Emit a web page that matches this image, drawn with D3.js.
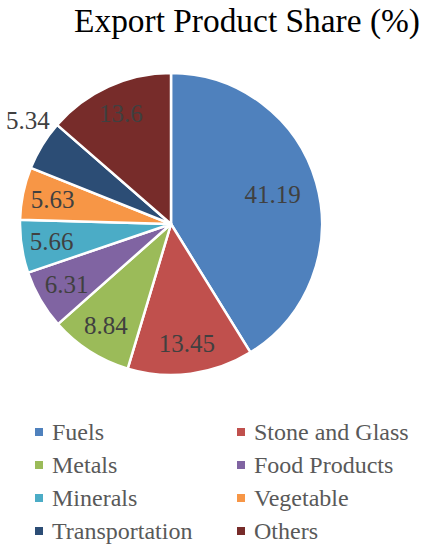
<!DOCTYPE html>
<html><head><meta charset="utf-8">
<script src="https://cdn.jsdelivr.net/npm/d3@7"></script>
<style>body{margin:0;background:#fff}svg{display:block}</style>
</head><body>
<svg id="c" width="425" height="550"></svg>
<script>
const categories = ["Fuels","Stone and Glass","Metals","Food Products","Minerals","Vegetable","Transportation","Others"];
const values = [41.19,13.45,8.84,6.31,5.66,5.63,5.34,13.6];
const colors = ["#4F81BD","#C0504D","#9BBB59","#8064A2","#4BACC6","#F79646","#2C4D75","#772C2A"];
const title = "Export Product Share (%)";

const svg = d3.select("#c");
const font = "'Liberation Serif', serif";
const cx = 171, cy = 224, R = 151;

svg.append("text").attr("x", 247).attr("y", 32).attr("text-anchor","middle")
  .attr("font-family", font).attr("font-size", 33.4).attr("fill","#000").text(title);

const pie = d3.pie().sort(null).value(d => d)(values);
const arc = d3.arc().innerRadius(0).outerRadius(R);
const g = svg.append("g").attr("transform", `translate(${cx},${cy})`);
g.selectAll("path").data(pie).join("path")
  .attr("d", arc).attr("fill", (d,i) => colors[i])
  .attr("stroke", "#fff").attr("stroke-width", 2.5).attr("stroke-linejoin","round");

function labelPos(d, i) {
  let a = (d.startAngle + d.endAngle) / 2;
  let r = 0.8 * R;
  if (i === 0) r = 0.7 * R;
  if (i === 6) { r = 1.17 * R; a += 4.5 * Math.PI / 180; }
  return [Math.sin(a) * r, -Math.cos(a) * r];
}
g.selectAll("text.lbl").data(pie).join("text").attr("class","lbl")
  .attr("x", (d,i) => labelPos(d,i)[0]).attr("y", (d,i) => labelPos(d,i)[1])
  .attr("dy", "0.33em").attr("text-anchor","middle")
  .attr("font-family", font).attr("font-size", 25).attr("fill","#404040")
  .text(d => d.data);

const lg = svg.append("g");
categories.forEach((c, i) => {
  const col = i % 2, row = Math.floor(i / 2);
  const x = col === 0 ? 35 : 237;
  const y = 432 + row * 33;
  lg.append("rect").attr("x", x).attr("y", y - 4).attr("width", 8).attr("height", 8).attr("fill", colors[i]);
  lg.append("text").attr("x", x + 17).attr("y", y + 8)
    .attr("font-family", font).attr("font-size", 24).attr("fill", "#595959").text(c);
});
</script>
</body></html>
